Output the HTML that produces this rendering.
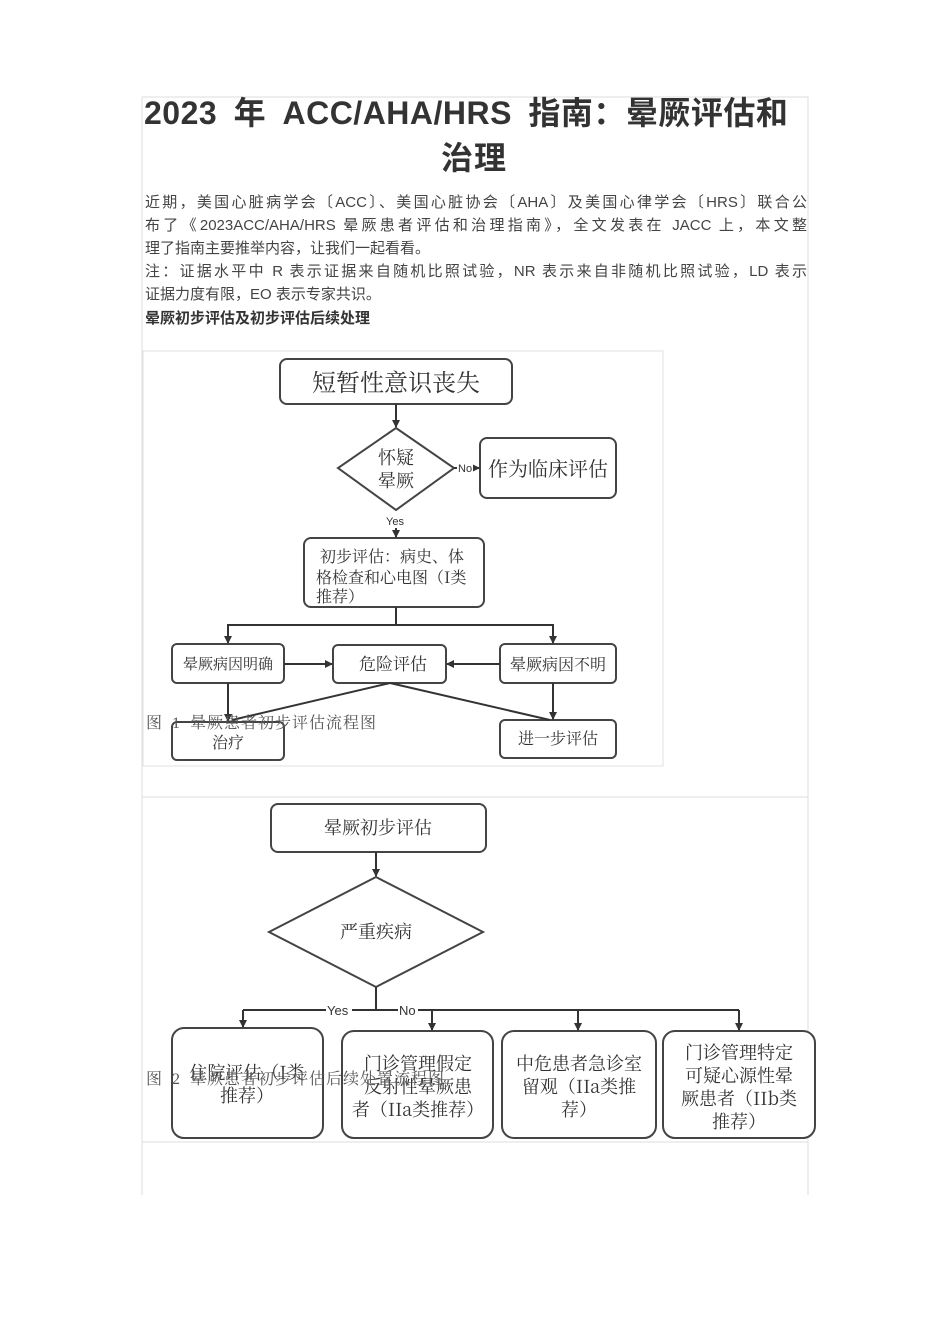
<!DOCTYPE html>
<html><head><meta charset="utf-8"><style>
body{margin:0;width:950px;height:1344px;background:#fff;position:relative;font-family:"Liberation Sans","Noto Sans CJK SC",sans-serif;overflow:hidden}
.t{position:absolute;white-space:nowrap;color:#333}
.p{position:absolute;left:145px;width:662px;font-size:15px;line-height:23px;color:#444;text-align:justify;text-align-last:justify}
svg{position:absolute;left:0;top:0}
svg text{font-family:"Noto Serif CJK SC","Noto Sans CJK SC",serif;fill:#333}
</style></head><body>
<svg width="950" height="1344">
<defs><marker id="a" markerWidth="8" markerHeight="8" refX="7" refY="4" orient="auto" markerUnits="userSpaceOnUse"><path d="M0,0L8,4L0,8z" fill="#333"/></marker></defs>
<g fill="none" stroke="#ddd" stroke-width="1">
<path d="M142,97H808V1195M142,97V1195M142,797H808M142,1142H808"/>
<rect x="143" y="351" width="520" height="415" stroke="#e2e2e2"/>
</g>
<g fill="#fff" stroke="#444" stroke-width="2">
<rect x="280" y="359" width="232" height="45" rx="7"/>
<path d="M396,428L454,468L396,510L338,468Z"/>
<rect x="480" y="438" width="136" height="60" rx="7"/>
<rect x="304" y="538" width="180" height="69" rx="7"/>
<rect x="172" y="644" width="112" height="39" rx="5"/>
<rect x="333" y="645" width="113" height="38" rx="5"/>
<rect x="500" y="644" width="116" height="39" rx="5"/>
<rect x="172" y="722" width="112" height="38" rx="5"/>
<rect x="500" y="720" width="116" height="38" rx="5"/>
<rect x="271" y="804" width="215" height="48" rx="7"/>
<path d="M376,877L483,932L376,987L269,932Z"/>
<rect x="172" y="1028" width="151" height="110" rx="12"/>
<rect x="342" y="1031" width="151" height="107" rx="12"/>
<rect x="502" y="1031" width="154" height="107" rx="12"/>
<rect x="663" y="1031" width="152" height="107" rx="12"/>
</g>
<g stroke="#333" stroke-width="2" fill="none">
<path d="M396,404V427" marker-end="url(#a)"/>
<path d="M454,468H479" marker-end="url(#a)"/>
<path d="M396,528V537" marker-end="url(#a)"/>
<path d="M396,607V625H228V643M396,625H553V643"/>
<path d="M228,628V643" marker-end="url(#a)"/>
<path d="M553,628V643" marker-end="url(#a)"/>
<path d="M284,664H332" marker-end="url(#a)"/>
<path d="M500,664H447" marker-end="url(#a)"/>
<path d="M228,683V721" marker-end="url(#a)"/>
<path d="M553,683V719" marker-end="url(#a)"/>
<path d="M390,683L232,720M390,683L550,720"/>
<path d="M376,852V876" marker-end="url(#a)"/>
<path d="M376,987V1010H243M376,1010H739"/>
<path d="M243,1010V1027" marker-end="url(#a)"/>
<path d="M432,1010V1030" marker-end="url(#a)"/>
<path d="M578,1010V1030" marker-end="url(#a)"/>
<path d="M739,1010V1030" marker-end="url(#a)"/>
</g>
<g font-family="Liberation Sans" font-size="11" fill="#333">
<rect x="457" y="461" width="16" height="12" fill="#fff"/>
<text x="458" y="472" style="font-family:'Liberation Sans'">No</text>
<text x="386" y="525" style="font-family:'Liberation Sans'">Yes</text>
<rect x="326" y="1003" width="26" height="14" fill="#fff"/>
<text x="327" y="1015" font-size="13" style="font-family:'Liberation Sans'">Yes</text>
<rect x="398" y="1003" width="20" height="14" fill="#fff"/>
<text x="399" y="1015" font-size="13" style="font-family:'Liberation Sans'">No</text>
</g>
<g text-anchor="middle">
<text x="396" y="391" font-size="24">短暂性意识丧失</text>
<text x="396" y="464" font-size="18">怀疑</text>
<text x="396" y="487" font-size="18">晕厥</text>
<text x="548" y="476" font-size="20">作为临床评估</text>
<text x="228" y="669" font-size="15">晕厥病因明确</text>
<text x="393" y="670" font-size="17">危险评估</text>
<text x="558" y="670" font-size="16">晕厥病因不明</text>
<text x="228" y="748" font-size="16">治疗</text>
<text x="558" y="744" font-size="16">进一步评估</text>
<text x="378" y="834" font-size="18">晕厥初步评估</text>
<text x="376" y="938" font-size="18">严重疾病</text>
<text x="247" y="1079" font-size="18">住院评估（I类</text>
<text x="247" y="1102" font-size="18">推荐）</text>
<text x="418" y="1070" font-size="18">门诊管理假定</text>
<text x="418" y="1093" font-size="18">反射性晕厥患</text>
<text x="418" y="1116" font-size="18">者（IIa类推荐）</text>
<text x="579" y="1070" font-size="18">中危患者急诊室</text>
<text x="579" y="1093" font-size="18">留观（IIa类推</text>
<text x="579" y="1116" font-size="18">荐）</text>
<text x="739" y="1059" font-size="18">门诊管理特定</text>
<text x="739" y="1082" font-size="18">可疑心源性晕</text>
<text x="739" y="1105" font-size="18">厥患者（IIb类</text>
<text x="739" y="1128" font-size="18">推荐）</text>
</g>
<g font-size="12" text-anchor="start">
<text x="320" y="562" font-size="16">初步评估：病史、体</text>
<text x="316" y="583" font-size="16">格检查和心电图（I类</text>
<text x="316" y="602" font-size="16">推荐）</text>
</g>
</svg>
<div class="t" style="left:144px;top:88px;font-size:32px;font-weight:bold;letter-spacing:0.5px;word-spacing:7px;">2023 年 ACC/AHA/HRS 指南：晕厥评估和</div>
<div class="t" style="left:441px;top:133px;font-size:32px;font-weight:bold;letter-spacing:1px;">治理</div>
<div class="p" style="top:191px">近期，美国心脏病学会〔ACC〕、美国心脏协会〔AHA〕及美国心律学会〔HRS〕联合公</div>
<div class="p" style="top:214px">布了《2023ACC/AHA/HRS 晕厥患者评估和治理指南》，全文发表在 JACC 上，本文整</div>
<div class="t" style="left:145px;top:237px;font-size:15px;line-height:23px;color:#444">理了指南主要推举内容，让我们一起看看。</div>
<div class="p" style="top:260px">注：证据水平中 R 表示证据来自随机比照试验，NR 表示来自非随机比照试验，LD 表示</div>
<div class="t" style="left:145px;top:283px;font-size:15px;line-height:23px;color:#444">证据力度有限，EO 表示专家共识。</div>
<div class="t" style="left:145px;top:307px;font-size:15px;line-height:23px;font-weight:bold;color:#333">晕厥初步评估及初步评估后续处理</div>
<div class="t" style="left:146px;top:710px;font-size:16px;letter-spacing:1px;word-spacing:4px;color:#555;font-family:'Liberation Serif','Noto Serif CJK SC',serif">图 1 晕厥患者初步评估流程图</div>
<div class="t" style="left:146px;top:1066px;font-size:16px;letter-spacing:1px;word-spacing:4px;color:#555;font-family:'Liberation Serif','Noto Serif CJK SC',serif">图 2 晕厥患者初步评估后续处置流程图</div>
</body></html>
